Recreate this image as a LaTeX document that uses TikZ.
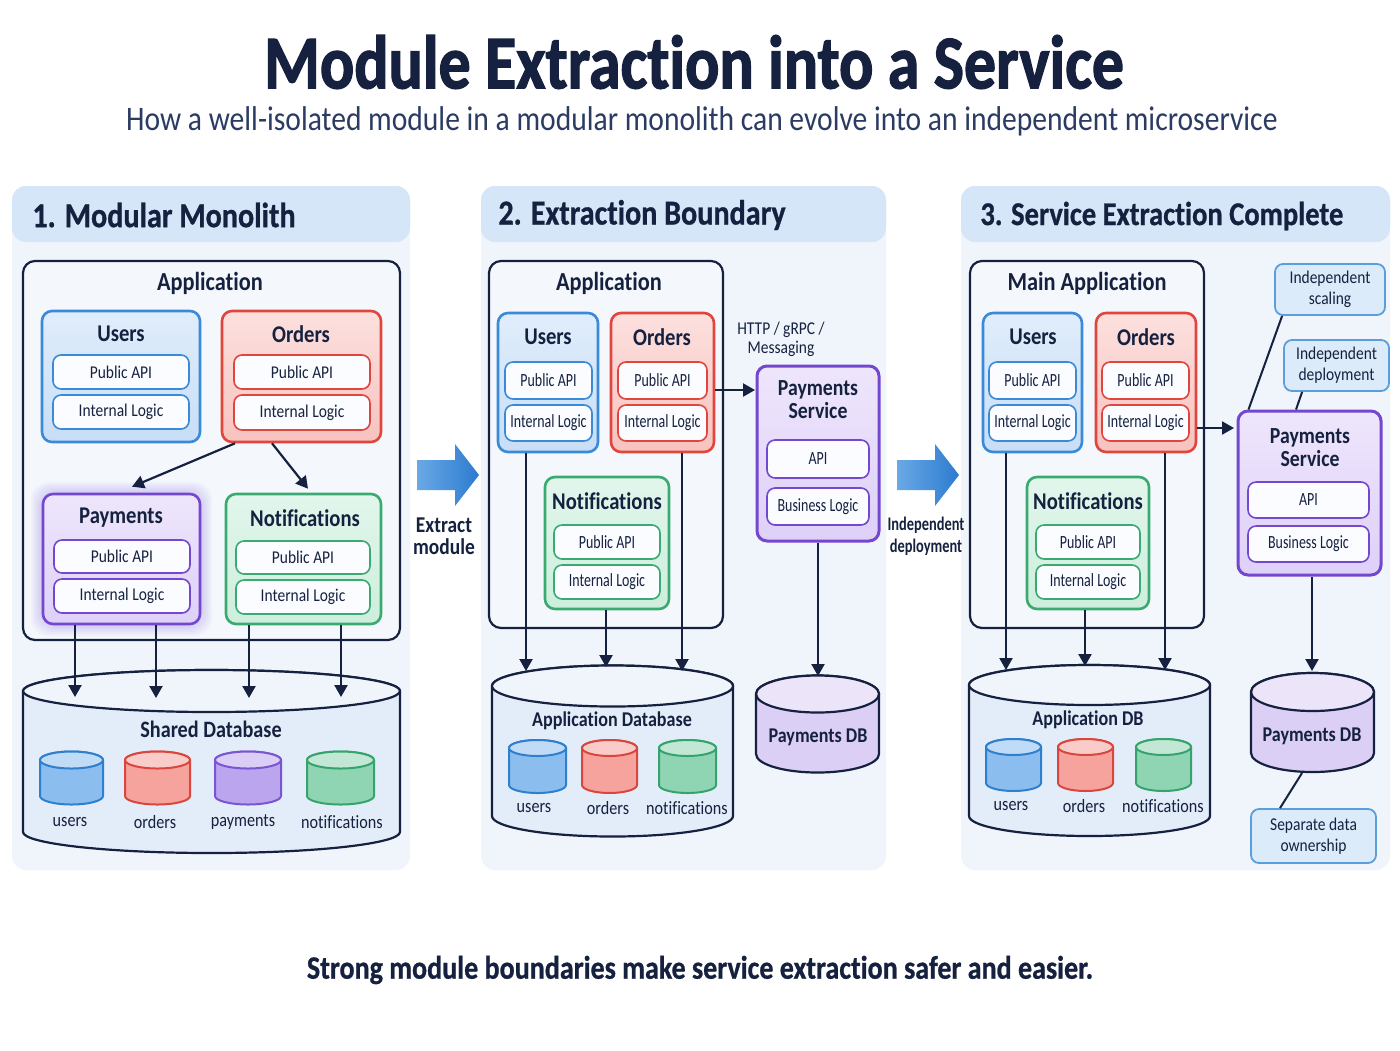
\documentclass[tikz,border=0pt]{standalone}
\usepackage{fontspec}
\setmainfont{Carlito}[FakeStretch=0.86,Ligatures=NoCommon]
\newfontfamily\narrowfont{Carlito}[FakeStretch=0.75,Ligatures=NoCommon]
\newfontfamily\heavyfont{Carlito}[FakeStretch=0.84,Ligatures=NoCommon,BoldFeatures={FakeBold=1.6}]
\newfontfamily\semiheavyfont{Carlito}[FakeStretch=0.86,Ligatures=NoCommon,BoldFeatures={FakeBold=0.8}]
\usetikzlibrary{arrows.meta,calc}
\definecolor{navy}{HTML}{15213F}
\definecolor{navysub}{HTML}{2B3B63}
\definecolor{panelbg}{HTML}{F0F5FC}
\definecolor{headbg}{HTML}{D5E6F8}
\definecolor{appfill}{HTML}{F4F8FD}
\definecolor{blueL}{HTML}{3A8AD8}
\definecolor{blueT}{HTML}{E0EDFB}
\definecolor{blueF}{HTML}{C8DEF6}
\definecolor{redL}{HTML}{E0463E}
\definecolor{redT}{HTML}{FCE0DE}
\definecolor{redF}{HTML}{F7C3BF}
\definecolor{purL}{HTML}{7447CF}
\definecolor{purT}{HTML}{EEE6FC}
\definecolor{purF}{HTML}{DED0F8}
\definecolor{grnL}{HTML}{3BAA70}
\definecolor{grnT}{HTML}{E2F6EC}
\definecolor{grnF}{HTML}{CDEEDD}
\definecolor{innerF}{HTML}{FAFCFF}
\definecolor{dbF}{HTML}{E3EDF9}
\definecolor{cuF}{HTML}{8BBEEE}\definecolor{cuL}{HTML}{2F7FCF}
\definecolor{coF}{HTML}{F6A39D}\definecolor{coL}{HTML}{D9463D}
\definecolor{cpF}{HTML}{BCA5EF}\definecolor{cpL}{HTML}{7A55D0}
\definecolor{cnF}{HTML}{90D5B3}\definecolor{cnL}{HTML}{36A36C}
\definecolor{pdbF}{HTML}{DCCFF5}
\definecolor{callF}{HTML}{DCEBFA}\definecolor{callL}{HTML}{5A9EDD}
\definecolor{arrL}{HTML}{6AA9E6}\definecolor{arrD}{HTML}{2C7BCF}

% box from (x1,y1) to (x2,y2) in pixel units
\newcommand\bx[7]{%
  \pgfmathsetmacro\bxw{(#5-#3)/2}\pgfmathsetmacro\bxh{(#6-#4)/2}%
  \pgfmathsetmacro\bxcx{(#3+#5)/2}\pgfmathsetmacro\bxcy{(#4+#6)/2}%
  \node[inner sep=0pt,align=center,#2,minimum width=\bxw pt,minimum height=\bxh pt] (#1) at (\bxcx,\bxcy) {#7};}
% cylinder: x1,x2,ytop-centre,ybottom-centre,ry,fill,draw,line width
\newcommand\dbcyl[8]{%
  \pgfmathsetmacro\cyrx{(#2-#1)/4}\pgfmathsetmacro\cyry{#5/2}\pgfmathsetmacro\cycx{(#1+#2)/2}%
  \filldraw[fill=#6,draw=#7,line width=#8] (#1,#3) -- (#1,#4)
    arc[start angle=180,end angle=360,x radius=\cyrx pt,y radius=\cyry pt] -- (#2,#3)
    arc[start angle=0,end angle=180,x radius=\cyrx pt,y radius=\cyry pt] -- cycle;
  \filldraw[fill=#6!55!white,draw=#7,line width=#8] (\cycx,#3) ellipse[x radius=\cyrx pt,y radius=\cyry pt];}

\tikzset{
  txt/.style={text=navy,inner sep=0pt,align=center},
  panel/.style={fill=panelbg,rounded corners=7pt},
  head/.style={fill=headbg,rounded corners=7pt},
  hd/.style={font=\semiheavyfont\bfseries\fontsize{17.5}{20}\selectfont},
  apptitle/.style={font=\bfseries\fontsize{13}{15}\selectfont},
  modtitle/.style={font=\bfseries\fontsize{12}{14}\selectfont},
  svctitle/.style={font=\bfseries\fontsize{11.5}{11.5}\selectfont},
  app/.style={draw=navy,line width=1.1pt,fill=appfill,rounded corners=6pt},
  mod/.style={line width=1.3pt,rounded corners=5pt},
  musers/.style={mod,draw=blueL,top color=blueT,bottom color=blueF},
  morders/.style={mod,draw=redL,top color=redT,bottom color=redF},
  mpay/.style={mod,draw=purL,top color=purT,bottom color=purF},
  mnot/.style={mod,draw=grnL,top color=grnT,bottom color=grnF},
  inner/.style={line width=0.8pt,rounded corners=4pt,fill=innerF,text=navy,font=\fontsize{9}{11}\selectfont},
  nar/.style={font=\narrowfont\fontsize{9.3}{11}\selectfont},
  iusers/.style={inner,draw=blueL},
  iorders/.style={inner,draw=redL},
  ipay/.style={inner,draw=purL},
  inot/.style={inner,draw=grnL},
  callout/.style={fill=callF,draw=callL,line width=0.9pt,rounded corners=4pt,text=navy,font=\fontsize{9}{10.5}\selectfont},
  dblabel/.style={txt,font=\bfseries\fontsize{10.5}{12}\selectfont},
  small/.style={txt,font=\fontsize{9.4}{11}\selectfont},
  arr/.style={draw=navy,line width=1.1pt,-{Triangle[length=6pt,width=6.5pt]}},
  link/.style={draw=navy,line width=1pt},
  bigarrow/.style={left color=arrL,right color=arrD,draw=none},
}

\begin{document}
\begin{tikzpicture}[x=0.5pt,y=-0.5pt]
\useasboundingbox (0,0) rectangle (1400,1050);
\fill[white] (0,0) rectangle (1400,1050);

% titles
\node[txt,font=\heavyfont\bfseries\fontsize{38}{40}\selectfont] (title) at (694,62) {Module Extraction into a Service};
\node[txt,text=navysub,font=\fontsize{17.2}{20}\selectfont] (subtitle) at (702,121) {How a well-isolated module in a modular monolith can evolve into an independent microservice};
\node[txt,font=\semiheavyfont\bfseries\fontsize{16.3}{18}\selectfont] (footer) at (700,970) {Strong module boundaries make service extraction safer and easier.};

% ================= panel 1 =================
\bx{p1}{panel}{12}{186}{410}{870}{}
\bx{h1}{head}{12}{186}{410}{242}{}
\node[txt,hd,anchor=west] (h1t) at (32,215) {1. Modular Monolith};
\bx{app1}{app}{23}{261}{400}{640}{}
\node[txt,apptitle] (app1t) at (210,283) {Application};

\bx{us1}{musers}{42}{311}{200}{442}{}
\node[txt,modtitle] (us1t) at (121,334) {Users};
\bx{us1p}{iusers}{53}{355}{189}{389}{Public API}
\bx{us1i}{iusers}{53}{395}{189}{429}{Internal Logic}

\bx{or1}{morders}{222}{311}{381}{442}{}
\node[txt,modtitle] (or1t) at (301,334) {Orders};
\bx{or1p}{iorders}{234}{355}{370}{389}{Public API}
\bx{or1i}{iorders}{234}{395}{370}{430}{Internal Logic}

\foreach \g in {12,10,8,6,4,2}
  \fill[purL,opacity=0.045,rounded corners=9pt] ({43-\g},{494-\g}) rectangle ({200+\g},{624+\g});
\bx{pa1}{mpay}{43}{494}{200}{624}{}
\node[txt,modtitle] (pa1t) at (121,518) {Payments};
\bx{pa1p}{ipay}{54}{540}{190}{573}{Public API}
\bx{pa1i}{ipay}{54}{579}{190}{613}{Internal Logic}

\bx{no1}{mnot}{226}{494}{381}{624}{}
\node[txt,modtitle] (no1t) at (305,518) {Notifications};
\bx{no1p}{inot}{236}{541}{370}{574}{Public API}
\bx{no1i}{inot}{236}{580}{370}{614}{Internal Logic}

\draw[arr] ([xshift=-33.25pt]or1.south) -- ([xshift=5.25pt,yshift=3pt]pa1.north);
\draw[arr] ([xshift=-14.75pt]or1.south) -- ([xshift=2.25pt,yshift=2pt]no1.north);

\dbcyl{23}{400}{691}{832}{21}{dbF}{navy}{1.1pt}
\node[txt,font=\bfseries\fontsize{11.75}{13}\selectfont] (sdbt) at (211,729) {Shared Database};
\dbcyl{40}{103}{760}{796}{8.5}{cuF}{cuL}{1pt}
\dbcyl{125}{190}{760}{796}{8.5}{coF}{coL}{1pt}
\dbcyl{215}{281}{760}{796}{8.5}{cpF}{cpL}{1pt}
\dbcyl{307}{374}{760}{796}{8.5}{cnF}{cnL}{1pt}
\node[small] (sdbu) at (70,822) {users};
\node[small] (sdbo) at (155,822) {orders};
\node[small] (sdbp) at (243,822) {payments};
\node[small] (sdbn) at (342,822) {notifications};
\coordinate (sdbA) at (75,697);
\coordinate (sdbB) at (156,698);
\coordinate (sdbC) at (249,698);
\coordinate (sdbD) at (341,697);
\draw[arr] (pa1.south -| sdbA) -- (sdbA);
\draw[arr] (pa1.south -| sdbB) -- (sdbB);
\draw[arr] (no1.south -| sdbC) -- (sdbC);
\draw[arr] (no1.south -| sdbD) -- (sdbD);

% big arrow 1
\path[bigarrow] (417,460) -- (455,460) -- (455,444) -- (479,475) -- (455,506) -- (455,490) -- (417,490) -- cycle;
\node[txt,font=\bfseries\fontsize{11.3}{10.8}\selectfont] (ext) at (444,536) {Extract\\module};

% ================= panel 2 =================
\bx{p2}{panel}{481}{186}{886}{870}{}
\bx{h2}{head}{481}{186}{886}{242}{}
\node[txt,hd,anchor=west] (h2t) at (498,215) {2. Extraction Boundary};
\bx{app2}{app}{489}{261}{723}{628}{}
\node[txt,apptitle] (app2t) at (609,283) {Application};

\bx{us2}{musers}{498}{313}{598}{452}{}
\node[txt,modtitle] (us2t) at (548,337) {Users};
\bx{us2p}{iusers,nar}{505}{362}{592}{399}{Public API}
\bx{us2i}{iusers,nar}{505}{405}{592}{441}{Internal Logic}

\bx{or2}{morders}{611}{313}{714}{452}{}
\node[txt,modtitle] (or2t) at (662,337) {Orders};
\bx{or2p}{iorders,nar}{618}{362}{707}{399}{Public API}
\bx{or2i}{iorders,nar}{618}{405}{707}{441}{Internal Logic}

\bx{no2}{mnot}{545}{477}{669}{609}{}
\node[txt,modtitle] (no2t) at (607,501) {Notifications};
\bx{no2p}{inot,nar}{554}{525}{660}{559}{Public API}
\bx{no2i}{inot,nar}{554}{565}{660}{599}{Internal Logic}

\dbcyl{492}{733}{686}{816}{20.5}{dbF}{navy}{1.1pt}
\node[dblabel] (adbt) at (612,721) {Application Database};
\dbcyl{509}{566}{748}{785}{8}{cuF}{cuL}{1pt}
\dbcyl{582}{637}{748}{785}{8}{coF}{coL}{1pt}
\dbcyl{659}{716}{748}{785}{8}{cnF}{cnL}{1pt}
\node[small] (adbu) at (534,808) {users};
\node[small] (adbo) at (608,808) {orders};
\node[small] (adbn) at (687,808) {notifications};
\coordinate (adbA) at (526,671);
\coordinate (adbB) at (606,667);
\coordinate (adbC) at (682,671);
\draw[arr] (us2.south -| adbA) -- (adbA);
\draw[arr] (no2.south -| adbB) -- (adbB);
\draw[arr] (or2.south -| adbC) -- (adbC);

\node[txt,font=\fontsize{9}{9.5}\selectfont] (http) at (781,339) {HTTP / gRPC /\\Messaging};
\bx{ps2}{mpay,line width=1.5pt}{757}{366}{879}{541}{}
\node[txt,svctitle] (ps2t) at (818,400) {Payments\\Service};
\bx{ps2a}{ipay,nar}{767}{440}{869}{478}{API}
\bx{ps2b}{ipay,nar}{767}{488}{869}{525}{Business Logic}
\coordinate (ps2A) at (755,390);
\draw[arr] (or2.east |- ps2A) -- (ps2A);

\dbcyl{756}{879}{694}{754}{18.5}{pdbF}{navy}{1.1pt}
\node[dblabel] (pdb2t) at (818,737) {Payments DB};
\coordinate (pdb2A) at (818,676);
\draw[arr] (ps2.south) -- (pdb2A);

% big arrow 2
\path[bigarrow] (897,460) -- (935,460) -- (935,444) -- (959,475) -- (935,506) -- (935,490) -- (897,490) -- cycle;

% ================= panel 3 =================
\bx{p3}{panel}{961}{186}{1390}{870}{}
\bx{h3}{head}{961}{186}{1390}{242}{}
\node[txt,font=\semiheavyfont\bfseries\fontsize{16.6}{20}\selectfont,anchor=west] (h3t) at (980,216) {3. Service Extraction Complete};
\node[txt,font=\narrowfont\bfseries\fontsize{9.6}{10.8}\selectfont] (dep) at (926,536) {Independent\\deployment};
\bx{app3}{app}{970}{261}{1204}{628}{}
\node[txt,apptitle] (app3t) at (1087,283) {Main Application};

\bx{us3}{musers}{983}{313}{1082}{452}{}
\node[txt,modtitle] (us3t) at (1033,337) {Users};
\bx{us3p}{iusers,nar}{989}{362}{1076}{399}{Public API}
\bx{us3i}{iusers,nar}{989}{405}{1076}{441}{Internal Logic}

\bx{or3}{morders}{1096}{313}{1196}{452}{}
\node[txt,modtitle] (or3t) at (1146,337) {Orders};
\bx{or3p}{iorders,nar}{1102}{362}{1189}{399}{Public API}
\bx{or3i}{iorders,nar}{1102}{405}{1189}{441}{Internal Logic}

\bx{no3}{mnot}{1027}{477}{1149}{609}{}
\node[txt,modtitle] (no3t) at (1088,501) {Notifications};
\bx{no3p}{inot,nar}{1036}{525}{1140}{559}{Public API}
\bx{no3i}{inot,nar}{1036}{565}{1140}{599}{Internal Logic}

\dbcyl{969}{1210}{685}{816}{20}{dbF}{navy}{1.1pt}
\node[dblabel] (adb3t) at (1088,720) {Application DB};
\dbcyl{986}{1041}{747}{783}{8}{cuF}{cuL}{1pt}
\dbcyl{1058}{1113}{747}{783}{8}{coF}{coL}{1pt}
\dbcyl{1136}{1191}{747}{783}{8}{cnF}{cnL}{1pt}
\node[small] (adb3u) at (1011,806) {users};
\node[small] (adb3o) at (1084,806) {orders};
\node[small] (adb3n) at (1163,806) {notifications};
\coordinate (adb3A) at (1006,670);
\coordinate (adb3B) at (1085,666);
\coordinate (adb3C) at (1165,670);
\draw[arr] (us3.south -| adb3A) -- (adb3A);
\draw[arr] (no3.south -| adb3B) -- (adb3B);
\draw[arr] (or3.south -| adb3C) -- (adb3C);

\bx{ps3}{mpay,line width=1.5pt}{1238}{411}{1381}{575}{}
\node[txt,svctitle] (ps3t) at (1310,448) {Payments\\Service};
\bx{ps3a}{ipay,nar}{1248}{482}{1369}{518}{API}
\bx{ps3b}{ipay,nar}{1248}{526}{1369}{562}{Business Logic}
\coordinate (ps3A) at (1234,428);
\draw[arr] (or3.east |- ps3A) -- (ps3A);

\dbcyl{1251}{1374}{692}{753}{19}{pdbF}{navy}{1.1pt}
\node[dblabel] (pdb3t) at (1312,736) {Payments DB};
\coordinate (pdb3A) at (1312,671);
\draw[arr] (ps3.south -| pdb3A) -- (pdb3A);
\coordinate (pdb3bot) at (1302,773);

\bx{cs1}{callout}{1275}{264}{1385}{315}{Independent\\scaling}
\bx{cs2}{callout}{1284}{340}{1389}{391}{Independent\\deployment}
\bx{cs3}{callout}{1251}{809}{1376}{863}{Separate data\\ownership}
\draw[link] ([xshift=4pt]cs1.south west) -- ([xshift=6pt]ps3.north west);
\draw[link] ([xshift=9.5pt]cs2.south west) -- ([xshift=-6.75pt]ps3.north);
\draw[link] (pdb3bot) -- ([xshift=-16.75pt]cs3.north);
\end{tikzpicture}
\end{document}
